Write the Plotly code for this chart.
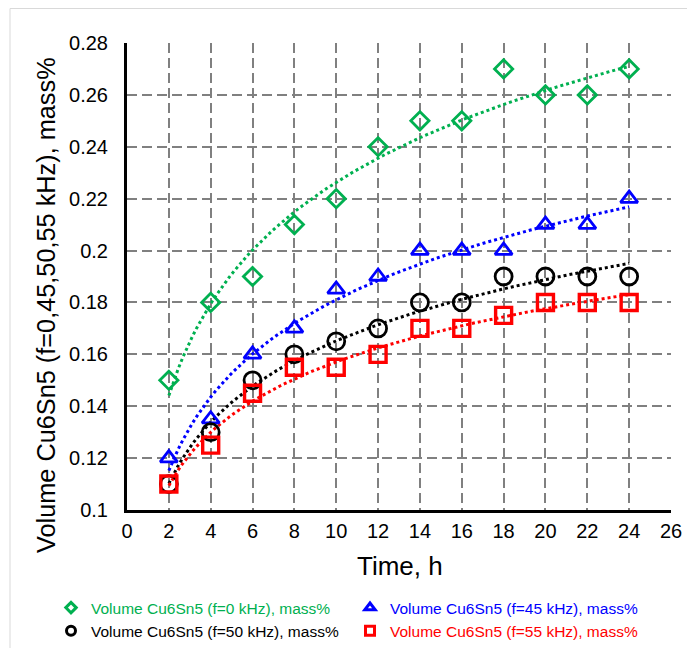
import numpy as np
import plotly.graph_objects as go

time_h = [2, 4, 6, 8, 10, 12, 14, 16, 18, 20, 22, 24]
f0 = [0.15, 0.18, 0.19, 0.21, 0.22, 0.24, 0.25, 0.25, 0.27, 0.26, 0.26, 0.27]
f45 = [0.12, 0.135, 0.16, 0.17, 0.185, 0.19, 0.20, 0.20, 0.20, 0.21, 0.21, 0.22]
f50 = [0.11, 0.13, 0.15, 0.16, 0.165, 0.17, 0.18, 0.18, 0.19, 0.19, 0.19, 0.19]
f55 = [0.11, 0.125, 0.145, 0.155, 0.155, 0.16, 0.17, 0.17, 0.175, 0.18, 0.18, 0.18]

names = ["Volume Cu6Sn5 (f=0 kHz), mass%", "Volume Cu6Sn5 (f=45 kHz), mass%",
         "Volume Cu6Sn5 (f=50 kHz), mass%", "Volume Cu6Sn5 (f=55 kHz), mass%"]
colors = ["#00B050", "#0000FF", "#000000", "#FF0000"]
symbols = ["diamond-open", "triangle-up-open", "circle-open", "square-open"]
sizes = [14, 15, 17, 16]
lws = [2.8, 2.8, 2.8, 3.4]
leg_sizes = [8, 9, 9, 9]
series = [f0, f45, f50, f55]

FONT = "Liberation Sans, Arial, sans-serif"
OFF = 8  # page body margin
PW, PH, L, T = 544, 467, 119, 35
W, H = 695, 648


def px(sx):
    return (sx - OFF - L) / PW


def py(sy):
    return (T + PH - (sy - OFF)) / PH


fig = go.Figure()
x = np.array(time_h, dtype=float)
xs = np.linspace(2, 24, 100)
for ys, c in zip(series, colors):
    a, b = np.polyfit(np.log(x), np.array(ys), 1)
    fig.add_trace(go.Scatter(x=xs, y=a * np.log(xs) + b, mode="lines",
                             line=dict(color=c, width=3, dash="dot"),
                             showlegend=False, hoverinfo="skip"))
for ys, c, s, sz, lw in zip(series, colors, symbols, sizes, lws):
    fig.add_trace(go.Scatter(x=time_h, y=ys, mode="markers", showlegend=False,
                             marker=dict(symbol=s, size=sz, color=c,
                                         line=dict(color=c, width=lw))))
# legend entries (small symbols like the original legend)
for n, c, s, sz in zip(names, colors, symbols, leg_sizes):
    fig.add_trace(go.Scatter(x=[None], y=[None], mode="markers",
                             name=f"<span style='color:{c}'>{n}</span>",
                             marker=dict(symbol=s, size=sz, color=c,
                                         line=dict(color=c, width=3))))

grid = dict(showgrid=True, gridcolor="#808080", gridwidth=1.8, griddash="10px,5px")
fig.update_xaxes(range=[0, 26], tickvals=list(range(0, 27, 2)),
                 showline=True, linecolor="black", linewidth=3, zeroline=False,
                 ticks="", ticklabelstandoff=1, automargin=False,
                 tickfont=dict(size=20, color="black", family=FONT), **grid)
fig.update_yaxes(range=[0.1, 0.28], tickvals=[0.1 + 0.02 * i for i in range(10)],
                 ticktext=["0.1", "0.12", "0.14", "0.16", "0.18", "0.2", "0.22", "0.24", "0.26", "0.28"],
                 showline=True, linecolor="black", linewidth=3, zeroline=False,
                 ticks="", ticklabelstandoff=12, automargin=False,
                 tickfont=dict(size=20, color="black", family=FONT), **grid)

fig.add_annotation(text="Time, h", xref="paper", yref="paper",
                   x=px(400), y=py(566), showarrow=False,
                   xanchor="center", yanchor="middle",
                   font=dict(size=26, color="black", family=FONT))
fig.add_annotation(text="Volume Cu6Sn5 (f=0,45,50,55 kHz), mass%", xref="paper", yref="paper",
                   x=px(46), y=py(305), showarrow=False, textangle=-90,
                   xanchor="center", yanchor="middle",
                   font=dict(size=25.3, color="black", family=FONT))

fig.add_shape(type="rect", xref="paper", yref="paper",
              x0=px(10), x1=px(730), y0=py(700), y1=(T + PH - 0.5) / PH,
              line=dict(color="#D9D9D9", width=1), layer="below")

fig.update_layout(width=W, height=H,
                  margin=dict(l=L, r=W - L - PW, t=T, b=H - T - PH, autoexpand=False),
                  paper_bgcolor="white", plot_bgcolor="white",
                  font=dict(family=FONT),
                  legend=dict(orientation="h", x=px(70 - 19), y=py(591),
                              xanchor="left", yanchor="top",
                              entrywidth=254, itemwidth=30, tracegroupgap=0,
                              bgcolor="rgba(0,0,0,0)",
                              font=dict(size=15.5, family=FONT)),
                  showlegend=True)
fig.write_html("out.html")
